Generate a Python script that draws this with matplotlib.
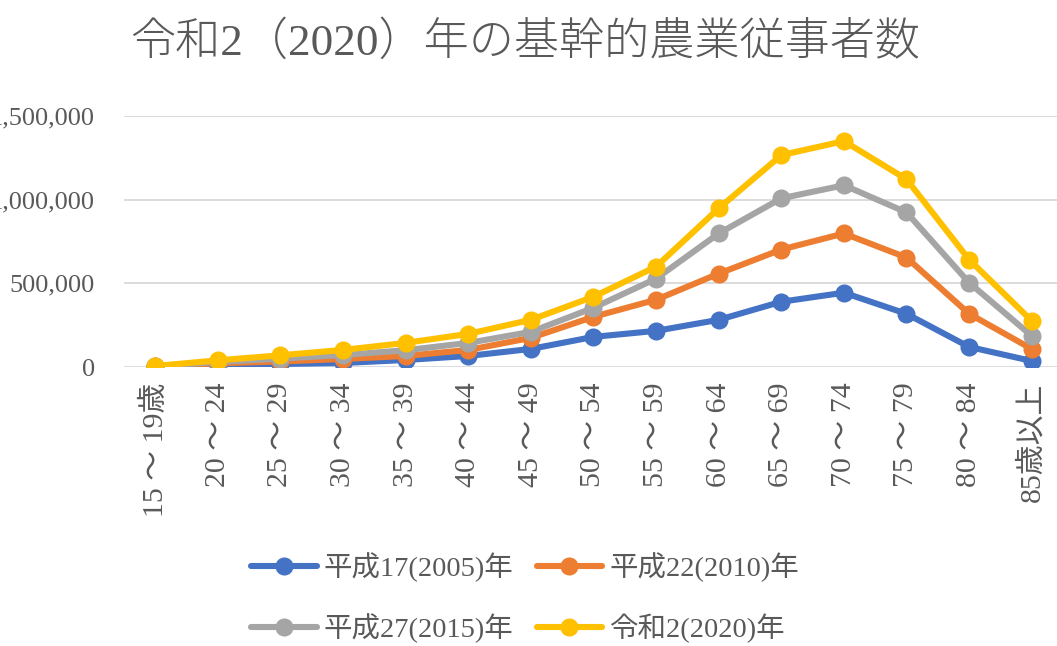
import numpy as np
import matplotlib
matplotlib.use('Agg')
import matplotlib.pyplot as plt
from matplotlib.ticker import FuncFormatter, MultipleLocator

plt.rcParams['font.family'] = ['Liberation Serif', 'Noto Sans CJK JP', 'DejaVu Sans']

ages = ['15 ～ 19歳', '20 ～ 24', '25 ～ 29', '30 ～ 34', '35 ～ 39', '40 ～ 44', '45 ～ 49',
        '50 ～ 54', '55 ～ 59', '60 ～ 64', '65 ～ 69', '70 ～ 74', '75 ～ 79', '80 ～ 84', '85歳以上']

series_names = ['平成17(2005)年', '平成22(2010)年', '平成27(2015)年', '令和2(2020)年']
colors = ['#4472C4', '#ED7D31', '#A5A5A5', '#FFC000']

# stacked line chart (values in persons)
h17 = [2000, 9000, 18000, 24000, 42000, 66000, 108000, 180000, 216000, 282000, 390000, 444000, 318000, 120000, 36000]
h22 = [1000, 13000, 15000, 24000, 24000, 36000, 66000, 120000, 186000, 276000, 312000, 354000, 336000, 198000, 72000]
h27 = [1000, 8000, 17000, 24000, 34000, 42000, 36000, 54000, 126000, 240000, 306000, 288000, 270000, 186000, 78000]
r2 = [2000, 10000, 20000, 30000, 44000, 54000, 72000, 66000, 72000, 150000, 258000, 264000, 198000, 138000, 90000]

W, H = 1057, 646
fig = plt.figure(figsize=(W / 100, H / 100), dpi=100)
ax = fig.add_axes([124 / W, (H - 367) / H, (1063 - 124) / W, 251 / H])

x = np.arange(len(ages))
stack = np.cumsum(np.array([h17, h22, h27, r2]), axis=0)
lines = []
for i in range(4):
    ln, = ax.plot(x, stack[i], color=colors[i], lw=4.4, marker='o', markersize=12,
                  label=series_names[i], solid_capstyle='round')
    lines.append(ln)

ax.set_xlim(-0.5, len(ages) - 0.5)
ax.set_ylim(0, 1500000)
ax.yaxis.set_major_locator(MultipleLocator(500000))
ax.yaxis.set_major_formatter(FuncFormatter(lambda v, p: '{:,.0f}'.format(v)))
ax.grid(axis='y', color='#D9D9D9', lw=1.3)
ax.set_axisbelow(True)
for s in ax.spines.values():
    s.set_visible(False)

ax.set_xticks(x)
ax.set_xticklabels(ages, rotation=90, va='top')
ax.tick_params(axis='x', length=0, pad=11, labelsize=21.5, labelcolor='#595959')
ax.tick_params(axis='y', length=0, pad=21, labelsize=19, labelcolor='#595959')

fig.text(0.497, 0.935, '令和2（2020）年の基幹的農業従事者数', ha='center', va='center',
         fontsize=32.5, color='#595959', fontweight='light')

# legend filled row by row like Excel
order = [0, 2, 1, 3]
leg = fig.legend([lines[i] for i in order], [series_names[i] for i in order],
                 loc='upper left', bbox_to_anchor=(240 / W, 1 - 541 / H), ncol=2,
                 frameon=False, fontsize=20.5, handlelength=2.3, handletextpad=0.25,
                 columnspacing=0.8, labelspacing=1.1, borderaxespad=0)
for t in leg.get_texts():
    t.set_color('#595959')

plt.savefig('out.png', dpi=100)
